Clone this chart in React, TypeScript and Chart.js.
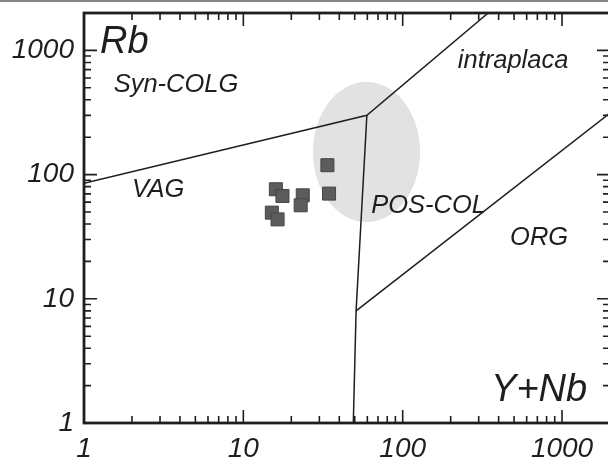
import React, { useEffect, useRef } from 'react';
import { Chart, registerables } from 'chart.js';
Chart.register(...registerables);

// Sample data (Y+Nb, Rb)
const sampleYNb = [33.7, 34.5, 16.0, 17.6, 23.6, 22.9, 15.1, 16.4];
const sampleRb = [119, 70.3, 76.2, 67.3, 68.1, 56.6, 49.4, 43.6];

// Field boundaries (Pearce et al. 1984)
const boundVagX = [1, 59.6, 344];
const boundVagY = [85, 300, 2000];
const boundColX = [59.6, 51, 49];
const boundColY = [300, 8, 1];
const boundOrgX = [51, 2000];
const boundOrgY = [8, 313];

// Shaded field (centre in data units, half-axes in log decades)
const shadeCenter = [59.3, 152];
const shadeHalfDecades = [0.336, 0.564];

// Field names
const fieldNames = ['Syn-COLG', 'VAG', 'intraplaca', 'POS-COL', 'ORG'];
const fieldX = [3.78, 2.92, 493, 145.4, 718];
const fieldY = [531, 74.8, 817, 55.6, 30.7];

// Axis names
const axisNames = ['Rb', 'Y+Nb'];
const axisNameX = [1.26, 1438];
const axisNameY = [1161, 1.83];

// Tick values
const tickValues = [
  1, 2, 3, 4, 5, 6, 7, 8, 9,
  10, 20, 30, 40, 50, 60, 70, 80, 90,
  100, 200, 300, 400, 500, 600, 700, 800, 900,
  1000, 2000,
];
const labelledTicks = [1, 10, 100, 1000];

const FONT = '"Liberation Sans", Arial, sans-serif';
const INK = '#1e1e1e';

const pts = (xs: number[], ys: number[]) => xs.map((x, i) => ({ x, y: ys[i] }));

const isMajor = (v: number) => labelledTicks.includes(v);

const decorPlugin = {
  id: 'decor',
  beforeDatasetsDraw(chart: any) {
    const { ctx } = chart;
    const xs = chart.scales.x;
    const ys = chart.scales.y;
    const cx = xs.getPixelForValue(shadeCenter[0]);
    const cy = ys.getPixelForValue(shadeCenter[1]);
    const rx = xs.getPixelForValue(shadeCenter[0] * Math.pow(10, shadeHalfDecades[0])) - cx;
    const ry = cy - ys.getPixelForValue(shadeCenter[1] * Math.pow(10, shadeHalfDecades[1]));
    ctx.save();
    ctx.fillStyle = '#e2e2e2';
    ctx.beginPath();
    ctx.ellipse(cx, cy, rx, ry, 0, 0, Math.PI * 2);
    ctx.fill();
    ctx.restore();
  },
  afterDatasetsDraw(chart: any) {
    const { ctx, chartArea } = chart;
    const { left, right, top, bottom } = chartArea;
    const xs = chart.scales.x;
    const ys = chart.scales.y;
    ctx.save();
    ctx.strokeStyle = INK;
    ctx.lineWidth = 1.6;
    ctx.beginPath();
    tickValues.forEach((v) => {
      const len = isMajor(v) ? 13 : 7;
      const px = xs.getPixelForValue(v);
      ctx.moveTo(px, bottom);
      ctx.lineTo(px, bottom - len);
      ctx.moveTo(px, top);
      ctx.lineTo(px, top + len);
      const py = ys.getPixelForValue(v);
      ctx.moveTo(left, py);
      ctx.lineTo(left + len, py);
      ctx.moveTo(right, py);
      ctx.lineTo(right - len, py);
    });
    ctx.stroke();
    ctx.lineWidth = 2.8;
    ctx.strokeRect(left, top, right - left, bottom - top);

    ctx.fillStyle = INK;
    ctx.textBaseline = 'middle';
    ctx.textAlign = 'center';
    ctx.font = `italic 25.5px ${FONT}`;
    fieldNames.forEach((t, i) => {
      ctx.fillText(t, xs.getPixelForValue(fieldX[i]), ys.getPixelForValue(fieldY[i]));
    });
    ctx.font = `italic 38px ${FONT}`;
    ctx.textAlign = 'left';
    ctx.fillText(axisNames[0], xs.getPixelForValue(axisNameX[0]), ys.getPixelForValue(axisNameY[0]));
    ctx.textAlign = 'right';
    ctx.fillText(axisNames[1], xs.getPixelForValue(axisNameX[1]), ys.getPixelForValue(axisNameY[1]));
    ctx.restore();
  },
};

const lineStyle = {
  type: 'line' as const,
  showLine: true,
  borderColor: INK,
  borderWidth: 1.5,
  pointRadius: 0,
  fill: false,
  tension: 0,
};

export default function App() {
  const ref = useRef<HTMLCanvasElement>(null);
  useEffect(() => {
    if (!ref.current) return;
    const tickFont = { family: FONT, size: 28, style: 'italic' as const };
    const chart = new Chart(ref.current, {
      type: 'scatter',
      data: {
        datasets: [
          { ...lineStyle, data: pts(boundVagX, boundVagY) },
          { ...lineStyle, data: pts(boundColX, boundColY) },
          { ...lineStyle, data: pts(boundOrgX, boundOrgY) },
          {
            type: 'scatter',
            data: pts(sampleYNb, sampleRb),
            pointStyle: 'rect',
            pointRadius: 9.2,
            backgroundColor: '#5c5c5c',
            borderColor: '#454545',
            borderWidth: 1,
          },
        ] as any,
      },
      options: {
        responsive: false,
        animation: false,
        events: [],
        layout: { padding: { left: 0, top: 13, right: 12, bottom: 0 } },
        plugins: { legend: { display: false }, tooltip: { enabled: false } },
        scales: {
          x: {
            type: 'logarithmic',
            min: 1,
            max: 2000,
            grid: { display: false, drawTicks: false, tickLength: 0 },
            border: { display: false },
            afterBuildTicks: (s: any) => {
              s.ticks = tickValues.map((v) => ({ value: v }));
            },
            afterFit: (s: any) => {
              s.height = 36;
              s.paddingLeft = 0;
              s.paddingRight = 0;
              s.paddingTop = 0;
              s.paddingBottom = 0;
            },
            ticks: {
              font: tickFont,
              color: INK,
              padding: 9,
              autoSkip: false,
              maxRotation: 0,
              callback: (v: any) => (isMajor(Number(v)) ? String(v) : ''),
            },
          },
          y: {
            type: 'logarithmic',
            min: 1,
            max: 2000,
            grid: { display: false, drawTicks: false, tickLength: 0 },
            border: { display: false },
            afterBuildTicks: (s: any) => {
              s.ticks = tickValues.map((v) => ({ value: v }));
            },
            afterFit: (s: any) => {
              s.width = 84;
              s.paddingLeft = 0;
              s.paddingRight = 0;
              s.paddingTop = 0;
              s.paddingBottom = 0;
            },
            ticks: {
              font: tickFont,
              color: INK,
              padding: 10,
              autoSkip: false,
              callback: (v: any) => (isMajor(Number(v)) ? String(v) : ''),
            },
          },
        },
      } as any,
      plugins: [decorPlugin],
    });
    return () => chart.destroy();
  }, []);

  return (
    <div
      style={{
        position: 'fixed',
        left: 0,
        top: 0,
        width: 608,
        height: 459,
        overflow: 'hidden',
        background: '#fff',
      }}
    >
      <canvas ref={ref} width={622} height={459} style={{ display: 'block' }} />
      <div
        style={{
          position: 'absolute',
          left: 0,
          top: 0,
          width: 608,
          height: 2,
          background: '#858585',
        }}
      />
    </div>
  );
}
